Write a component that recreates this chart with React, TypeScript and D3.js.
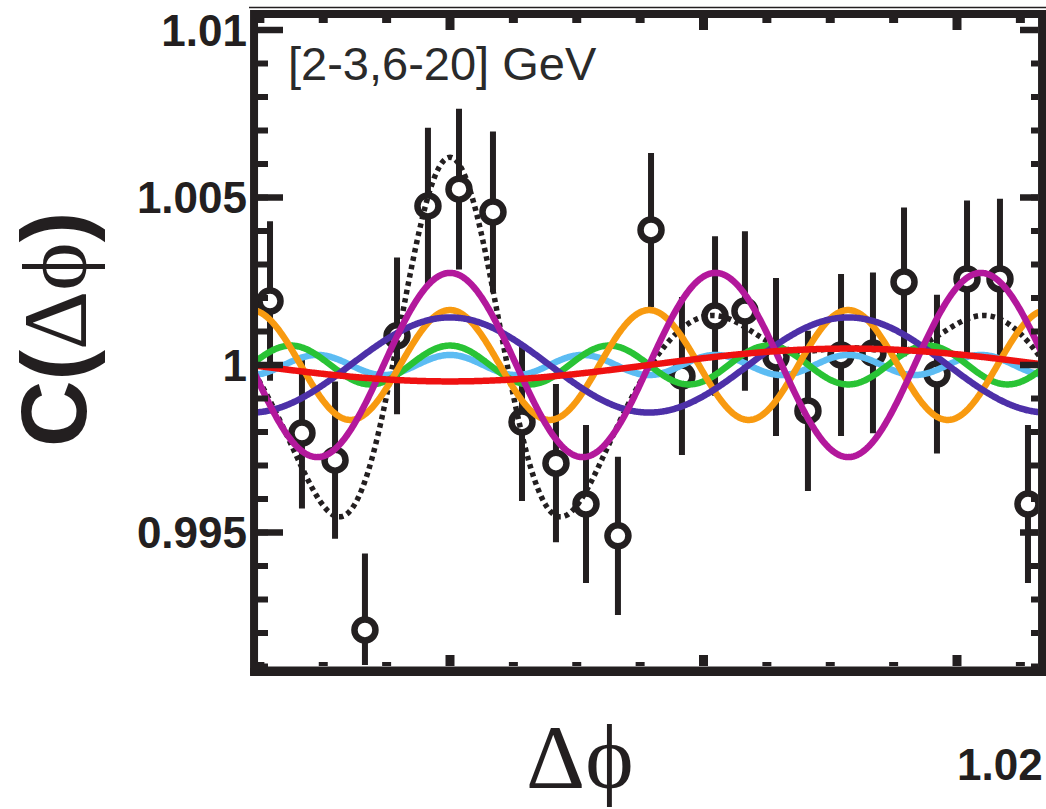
import React from "react";
import * as d3 from "d3";

// ---------- data ----------
const dphi = [
  -1.42, -1.168, -0.907, -0.671, -0.418, -0.174, 0.071, 0.339, 0.568, 0.836,
  1.073, 1.325, 1.586, 1.83, 2.091, 2.327, 2.572, 2.824, 3.085, 3.337, 3.582,
  3.842, 4.079, 4.339, 4.56,
];
const cValues = [
  1.00191, 0.99797, 0.99716, 0.99209, 1.00087, 1.00475, 1.00525, 1.00457,
  0.9983, 0.99707, 0.99585, 0.9949, 1.00403, 0.99967, 1.00146, 1.00161,
  1.00024, 0.99863, 1.0003, 1.00036, 1.00248, 0.99973, 1.00257, 1.00257,
  0.99585,
];
const cErrors = [
  0.00238, 0.00225, 0.00235, 0.00228, 0.00234, 0.00233, 0.0024, 0.0024,
  0.00236, 0.00236, 0.00236, 0.00236, 0.0023, 0.00236, 0.00238, 0.00238,
  0.00236, 0.00239, 0.00242, 0.0024, 0.00222, 0.00237, 0.00234, 0.00239,
  0.00236,
];

// Fourier harmonics: 1 + 2 v_n cos(n Δφ) (amplitude = 2 v_n)
const harmonicOrders = [6, 5, 4, 2, 3, 1];
const harmonicAmps = [0.0003, 0.00058, 0.00164, 0.00142, 0.00275, -0.00049];
const harmonicColors = ["#5cbcf3", "#29c335", "#f89a10", "#4d30a8", "#b3189c", "#ef1111"];

const yMajorTicks = [0.995, 1, 1.005, 1.01];
const yTickLabels = ["0.995", "1", "1.005", "1.01"];
const yMinorTicks = d3.range(991, 1011).map((v) => v / 1000);
const xMajorTicks = [0, 2, 4];
const xMinorTicks = [-1.5, -1, -0.5, 0.5, 1, 1.5, 2.5, 3, 3.5, 4.5];
const panelLabel = "[2-3,6-20] GeV";
const nextPanelLabel = "1.02";
const xDomain = [-1.546, 4.671];

// ---------- layout ----------
const W = 1046;
const H = 809;
const INK = "#231f20";
const SANS = "'Liberation Sans', Arial, sans-serif";
const SERIF = "'Liberation Serif', 'DejaVu Serif', 'Times New Roman', serif";

const x = d3.scaleLinear().domain([0, 4]).range([450, 957]);
const y = d3.scaleLinear().domain([0.99, 1.01]).range([700, 30]);

const left = x(xDomain[0]);
const right = x(xDomain[1]);
const top = 14;
const bottom = 670.5;

export default function App() {
  const samples = d3.range(0, 801).map(
    (i) => xDomain[0] + (i * (xDomain[1] - xDomain[0])) / 800
  );
  const line = d3
    .line<[number, number]>()
    .x((d) => x(d[0]))
    .y((d) => y(d[1]));

  const harmonicPaths = harmonicOrders.map((n, k) =>
    line(samples.map((p) => [p, 1 + harmonicAmps[k] * Math.cos(n * p)]))
  );
  const totalPath = line(
    samples.map((p) => [
      p,
      1 +
        harmonicOrders.reduce(
          (s, n, k) => s + harmonicAmps[k] * Math.cos(n * p),
          0
        ),
    ])
  );

  return (
    <svg
      width={W}
      height={H}
      style={{ position: "absolute", left: 0, top: 0, background: "#fff" }}
    >
      <defs>
        <clipPath id="plotClip">
          <rect x={258} y={18} width={1038 - 258} height={665 - 18} />
        </clipPath>
      </defs>
      <rect x={0} y={0} width={W} height={H} fill="#fff" />

      <g clipPath="url(#plotClip)">
        {dphi.map((d, i) => (
          <line
            key={"e" + i}
            x1={x(d)}
            x2={x(d)}
            y1={y(cValues[i] + cErrors[i])}
            y2={y(cValues[i] - cErrors[i])}
            stroke={INK}
            strokeWidth={6}
          />
        ))}
        {dphi.map((d, i) => (
          <circle
            key={"c" + i}
            cx={x(d)}
            cy={y(cValues[i])}
            r={10.5}
            fill="#fff"
            stroke={INK}
            strokeWidth={6.5}
          />
        ))}
        <path
          d={totalPath || ""}
          fill="none"
          stroke={INK}
          strokeWidth={5.5}
          strokeDasharray="4.5 4"
        />
        {harmonicPaths.map((p, k) => (
          <path
            key={"h" + k}
            d={p || ""}
            fill="none"
            stroke={harmonicColors[k]}
            strokeWidth={6.5}
            strokeLinejoin="round"
          />
        ))}
      </g>

      {/* frame */}
      <line x1={249} x2={W} y1={7.5} y2={7.5} stroke={INK} strokeWidth={1.5} />
      <rect
        x={left}
        y={top}
        width={right - left}
        height={bottom - top}
        fill="none"
        stroke={INK}
        strokeWidth={8}
      />
      <line x1={left - 4} x2={right + 4} y1={bottom + 1.5} y2={bottom + 1.5} stroke={INK} strokeWidth={8} />

      {yMinorTicks.map((v, i) => (
        <g key={"ym" + i}>
          <line x1={258} x2={268} y1={y(v)} y2={y(v)} stroke={INK} strokeWidth={6} />
          <line x1={1031} x2={1038} y1={y(v)} y2={y(v)} stroke={INK} strokeWidth={6} />
        </g>
      ))}
      {yMajorTicks.map((v, i) => (
        <g key={"yM" + i}>
          <line x1={258} x2={283} y1={y(v)} y2={y(v)} stroke={INK} strokeWidth={6.5} />
          <line x1={1020} x2={1038} y1={y(v)} y2={y(v)} stroke={INK} strokeWidth={6.5} />
          <text
            x={247}
            y={y(v)}
            dy="0.36em"
            textAnchor="end"
            fontFamily={SANS}
            fontWeight="bold"
            fontSize={44}
            fill={INK}
          >
            {yTickLabels[i]}
          </text>
        </g>
      ))}

      {xMinorTicks.map((v, i) => (
        <g key={"xm" + i}>
          <line x1={x(v)} x2={x(v)} y1={18} y2={23} stroke={INK} strokeWidth={9} />
          <line x1={x(v)} x2={x(v)} y1={666} y2={662} stroke={INK} strokeWidth={9} />
        </g>
      ))}
      {xMajorTicks.map((v, i) => (
        <g key={"xM" + i}>
          <line x1={x(v)} x2={x(v)} y1={18} y2={30} stroke={INK} strokeWidth={9} />
          <line x1={x(v)} x2={x(v)} y1={666} y2={655} stroke={INK} strokeWidth={9} />
        </g>
      ))}

      <text x={288} y={80} fontFamily={SANS} fontSize={47} fill="#2a2a2a">
        {panelLabel}
      </text>

      {/* y-axis title */}
      <text transform="translate(86,447) rotate(-90)" fontSize={92} fill={INK}>
        <tspan fontFamily={SANS} fontWeight="bold">C(</tspan>
        <tspan fontFamily={SERIF}>Δϕ</tspan>
        <tspan fontFamily={SANS} fontWeight="bold">)</tspan>
      </text>

      {/* x-axis title */}
      <text x={526} y={788} fontFamily={SERIF} fontSize={92} fill={INK}>
        Δϕ
      </text>

      {/* next panel's tick label at the edge */}
      <text
        x={957}
        y={780}
        fontFamily={SANS}
        fontWeight="bold"
        fontSize={44}
        fill={INK}
      >
        {nextPanelLabel}
      </text>
    </svg>
  );
}
